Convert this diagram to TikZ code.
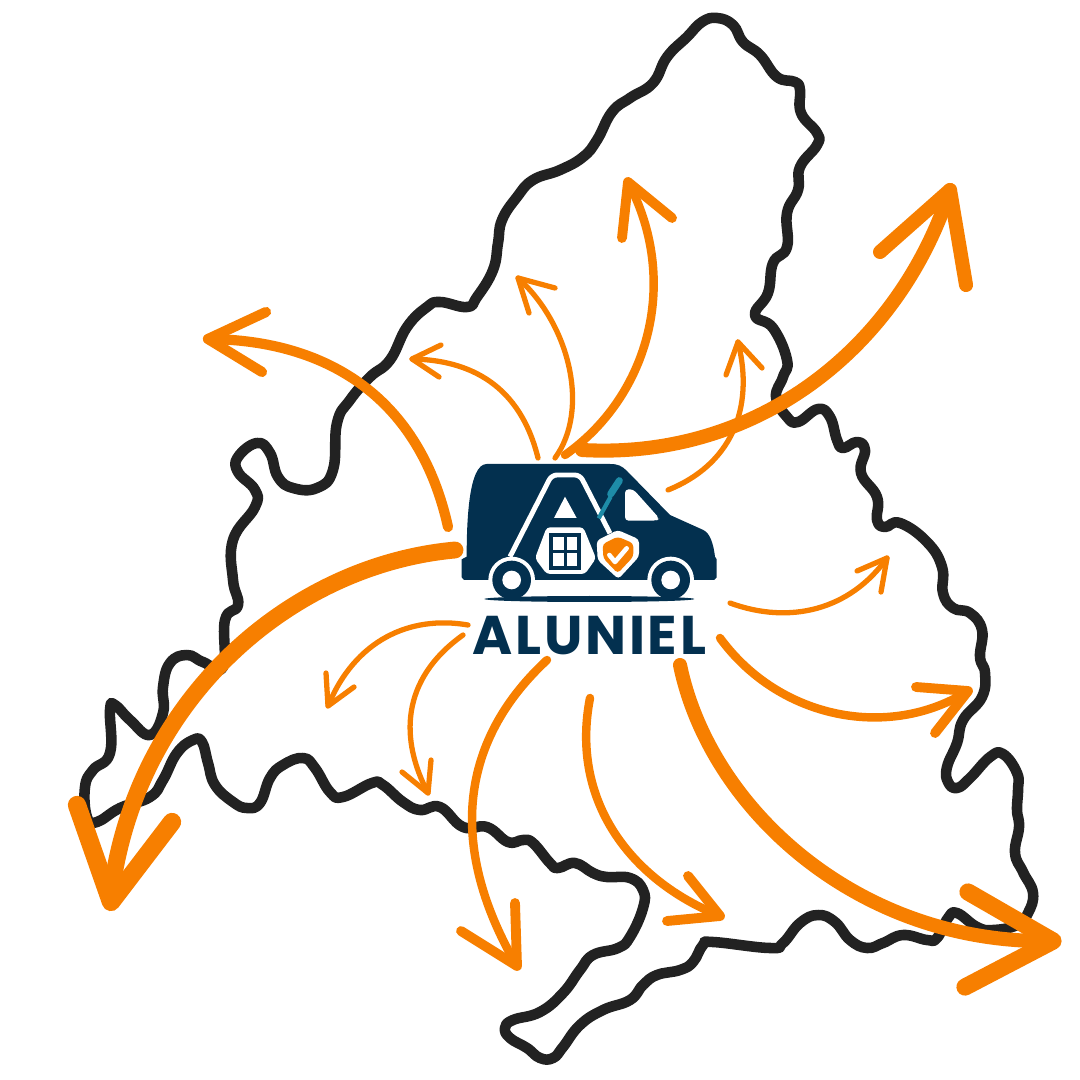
\documentclass[tikz,border=0pt]{standalone}
\usepackage{fontspec}
\newfontfamily\logofont{Poppins}[LetterSpace=5]
\definecolor{roadblack}{HTML}{222222}
\definecolor{vanorange}{HTML}{F77F00}
\definecolor{vannavy}{HTML}{03304F}
\definecolor{toolteal}{HTML}{1E8CA8}

\begin{document}
\begin{tikzpicture}[x=0.01cm,y=-0.01cm]
    \tikzstyle{border}=[draw=roadblack,line width=3pt,line join=round]
    \tikzstyle{thinarrow}=[draw=vanorange,line width=1.5pt,line cap=round,line join=round]
    \tikzstyle{midarrow}=[draw=vanorange,line width=2.4pt,line cap=round,line join=round]
    \tikzstyle{widearrow}=[draw=vanorange,line width=2.9pt,line cap=round,line join=round]
    \tikzstyle{heavyarrow}=[draw=vanorange,line width=4pt,line cap=round,line join=round]
    \tikzstyle{hugearrow}=[draw=vanorange,line width=4.8pt,line cap=round,line join=round]
    \useasboundingbox (0,0) rectangle (1080,1080);
    % region border
    \draw[border] plot[smooth cycle,tension=0.75] coordinates {(717,18) (733,25) (743,42) (760,55) (777,77) (795,82) (800,90) (801,113) (817,133) (817,145) (800,167) (798,190) (787,213) (787,247) (773,263) (768,293) (755,315) (773,328) (787,360) (783,377) (776,397) (787,417) (798,422) (818,409) (830,417) (837,440) (843,448) (857,442) (865,450) (861,473) (877,497) (877,520) (885,527) (900,523) (927,542) (942,567) (943,593) (953,608) (970,613) (982,630) (980,657) (985,673) (982,697) (963,720) (957,743) (947,767) (948,782) (957,788) (970,778) (990,757) (1003,754) (1017,773) (1018,790) (1017,810) (1019,827) (1015,853) (1023,872) (1033,893) (1028,913) (1017,925) (993,930) (977,927) (957,913) (948,918) (937,938) (927,940) (903,935) (883,943) (867,948) (850,940) (835,922) (818,915) (800,923) (783,943) (770,948) (713,942) (703,945) (693,962) (680,970) (657,975) (643,985) (630,1000) (603,1010) (580,1025) (563,1047) (553,1058) (540,1058) (527,1048) (510,1038) (505,1028) (513,1020) (540,1012) (563,993) (580,970) (593,955) (618,948) (630,937) (643,908) (643,890) (630,878) (607,877) (593,873) (575,863) (558,868) (550,863) (533,843) (523,840) (508,842) (487,827) (463,827) (440,807) (420,810) (403,802) (383,785) (372,783) (343,797) (330,792) (315,768) (303,758) (283,765) (270,778) (260,803) (247,808) (233,802) (215,785) (208,763) (202,742) (193,740) (177,753) (163,780) (150,797) (120,808) (97,822) (87,817) (85,787) (93,770) (110,753) (110,710) (115,705) (130,720) (150,735) (163,713) (163,687) (170,663) (187,655) (203,662) (223,667) (225,620) (238,605) (233,580) (233,540) (255,507) (255,490) (238,472) (238,457) (257,443) (270,453) (278,477) (293,488) (317,488) (333,470) (337,423) (350,400) (370,377) (390,360) (407,327) (427,307) (440,302) (467,307) (477,297) (493,270) (498,243) (502,220) (517,197) (533,180) (560,170) (583,157) (597,140) (612,112) (630,98) (653,83) (667,57) (687,37) (702,22)};
    % arrows leaving the van
    \draw[hugearrow] (455,550) .. controls (290,565) and (135,700) .. (111,895);
    \draw[hugearrow,line width=5.2pt] (77,805) -- (111,902) -- (172,822);
    \draw[widearrow] (448,527) .. controls (420,400) and (330,340) .. (208,339);
    \draw[widearrow] (266,312) -- (208,339) -- (262,372);
    \draw[thinarrow] (538,458) .. controls (520,385) and (470,360) .. (412,359);
    \draw[thinarrow] (441,345) -- (412,359) -- (439,377);
    \draw[thinarrow] (555,458) .. controls (590,410) and (570,325) .. (518,278);
    \draw[thinarrow] (555,288) -- (518,278) -- (529,313);
    \draw[midarrow] (565,455) .. controls (650,395) and (680,280) .. (628,182);
    \draw[midarrow,line width=2.8pt] (622,238) -- (628,182) -- (672,218);
    \draw[heavyarrow] (582,450) .. controls (760,460) and (900,345) .. (950,190);
    \draw[heavyarrow] (880,252) -- (950,190) -- (966,285);
    \draw[thinarrow] (668,490) .. controls (730,465) and (755,410) .. (738,342);
    \draw[thinarrow] (726,375) -- (738,342) -- (762,368);
    \draw[thinarrow] (730,603) .. controls (790,625) and (850,610) .. (887,558);
    \draw[thinarrow] (857,571) -- (887,558) -- (881,592);
    \draw[midarrow] (720,638) .. controls (780,720) and (890,740) .. (968,691);
    \draw[midarrow,line width=2.8pt] (916,687) -- (968,691) -- (935,733);
    \draw[heavyarrow] (680,665) .. controls (710,810) and (860,945) .. (1053,941);
    \draw[heavyarrow,line width=4.9pt] (968,892) -- (1053,941) -- (965,987);
    \draw[midarrow] (590,698) .. controls (570,800) and (630,880) .. (720,916);
    \draw[midarrow,line width=2.8pt] (688,876) -- (720,916) -- (667,921);
    \draw[midarrow] (547,660) .. controls (450,750) and (455,860) .. (517,966);
    \draw[midarrow,line width=2.8pt] (461,931) -- (517,966) -- (515,903);
    \draw[thinarrow] (463,635) .. controls (400,680) and (400,740) .. (428,793);
    \draw[thinarrow] (402,772) -- (428,793) -- (431,760);
    \draw[thinarrow] (468,625) .. controls (410,615) and (355,640) .. (328,706);
    \draw[thinarrow] (326,673) -- (328,706) -- (354,687);
    % van logo
    \begin{scope}[shift={(440,440)},scale=1/3]
        \fill[vannavy] (140,72) -- (510,72) .. controls (535,72) and (545,78) .. (560,92) -- (690,225) -- (790,270) .. controls (810,280) and (820,310) .. (825,350) -- (830,358) -- (830,412) -- (822,420) -- (72,420) -- (65,412) -- (65,358) -- (80,350) .. controls (80,250) and (85,72) .. (140,72);
        \fill[white] (215,420) circle (70);
        \fill[white] (692,420) circle (70);
        \fill[vannavy] (448,477) ellipse [x radius=315,y radius=9];
        \fill[vannavy] (215,420) circle (58);
        \fill[vannavy] (692,420) circle (58);
        \fill[white] (215,420) circle (28);
        \fill[white] (692,420) circle (28);
        \fill[white,rounded corners=1pt] (555,148) -- (580,148) -- (658,235) -- (650,242) -- (555,242) -- cycle;
        % letter A with the house
        \draw[white,line width=1.4pt,line join=round,rounded corners=1.5pt] (210,350) -- (335,105) -- (420,105) -- (510,280);
        \fill[white] (375,170) -- (410,234) -- (342,234) -- cycle;
        \fill[white,rounded corners=1pt] (320,262) -- (430,262) -- (468,355) -- (435,402) -- (320,402) -- (285,355) -- cycle;
        \fill[vannavy] (328,278) rectangle (422,390);
        \foreach \px/\py in {340/290,380/290,340/338,380/338}
            \fill[white] (\px,\py) rectangle ++(32,39);
        % screwdriver
        \draw[toolteal,line width=1.2pt] (476,235) -- (512,170);
        \draw[toolteal,line width=2pt,line cap=round] (512,162) -- (538,122);
        % shield
        \fill[white,rounded corners=1pt] (533,270) -- (597,298) -- (597,350) -- (535,417) -- (473,360) -- (470,302) -- cycle;
        \fill[vanorange,rounded corners=1pt] (533,290) -- (580,310) -- (580,350) -- (533,400) -- (490,355) -- (488,312) -- cycle;
        \draw[white,line width=1.3pt,line cap=round,line join=round] (508,345) -- (525,366) -- (560,325);
        \node[text=vannavy,font=\logofont\bfseries\fontsize{15.5}{15.5}\selectfont,inner sep=0pt] (aluniel) at (448,588) {ALUNIEL};
    \end{scope}
\end{tikzpicture}
\end{document}
